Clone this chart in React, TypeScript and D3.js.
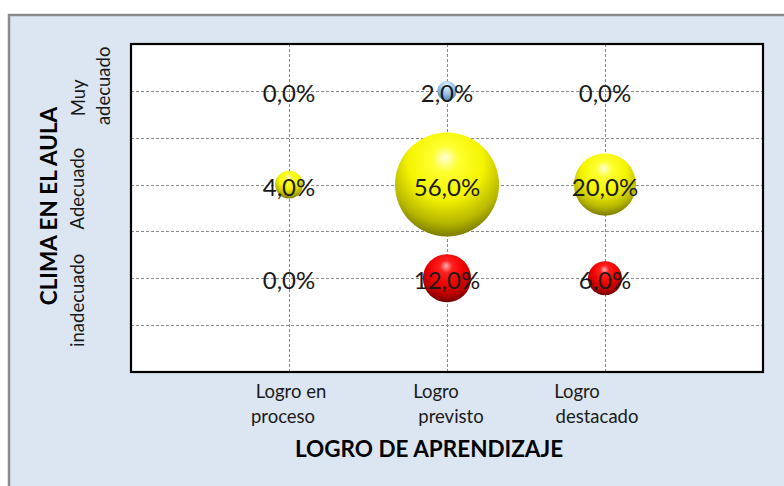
import React, { useEffect, useRef } from 'react';
import * as d3 from 'd3';

// categories
const logros = [['Logro en', 'proceso'], ['Logro', 'previsto'], ['Logro', 'destacado']];
const climaLevels = ['inadecuado', 'Adecuado', 'Muy adecuado'];

// percentages per row of clima (x order = logros)
const inadecuado = [0, 12, 6];
const adecuado = [4, 56, 20];
const muyAdecuado = [0, 2, 0];

const series = [
  { name: 'inadecuado', level: 1, values: inadecuado, grad: 'sphRed' },
  { name: 'Adecuado', level: 2, values: adecuado, grad: 'sphYellow' },
  { name: 'Muy adecuado', level: 3, values: muyAdecuado, grad: 'sphBlue' },
];

const W = 784;
const H = 486;
const FONT = 'Lato, "Open Sans", sans-serif';

const fmt = (v: number) => v.toFixed(1).replace('.', ',') + '%';

export default function App() {
  const ref = useRef<SVGSVGElement>(null);

  useEffect(() => {
    const svg = d3.select(ref.current);
    svg.selectAll('*').remove();

    const x = d3.scaleLinear().domain([0, 4]).range([131, 763]);
    const y = d3.scaleLinear().domain([0, 3.5]).range([372, 44]);
    const r = d3.scaleSqrt().domain([0, 56]).range([0, 52]);

    const defs = svg.append('defs');
    const sphere = (id: string, stops: [number, string][]) => {
      const g = defs.append('radialGradient')
        .attr('id', id)
        .attr('cx', '50%').attr('cy', '32%').attr('r', '72%')
        .attr('fx', '48%').attr('fy', '24%');
      stops.forEach(([o, c]) => g.append('stop').attr('offset', o).attr('stop-color', c));
    };
    sphere('sphYellow', [[0, '#ffffd8'], [0.18, '#ffff30'], [0.5, '#f4f400'], [0.78, '#b8b800'], [1, '#6a6a00']]);
    sphere('sphRed', [[0, '#ffb0b0'], [0.18, '#ff2020'], [0.5, '#f00000'], [0.78, '#b00000'], [1, '#600000']]);
    sphere('sphBlue', [[0, '#f4faff'], [0.25, '#c0dcf4'], [0.6, '#8fb8e2'], [1, '#4a78ad']]);

    // chart area
    svg.append('rect')
      .attr('x', 9).attr('y', 15)
      .attr('width', 820).attr('height', 520)
      .attr('fill', '#dce6f2')
      .attr('stroke', '#8c8c8c')
      .attr('stroke-width', 2.5);

    // plot area
    svg.append('rect')
      .attr('x', x(0)).attr('y', y(3.5))
      .attr('width', x(4) - x(0)).attr('height', y(0) - y(3.5))
      .attr('fill', '#ffffff');

    const grid = svg.append('g')
      .attr('stroke', '#8a8a8a')
      .attr('stroke-width', 1)
      .attr('stroke-dasharray', '3,2');

    grid.selectAll('line.h')
      .data(d3.range(0.5, 3.5, 0.5))
      .enter().append('line')
      .attr('x1', x(0)).attr('x2', x(4))
      .attr('y1', d => Math.round(y(d)) + 0.5)
      .attr('y2', d => Math.round(y(d)) + 0.5);

    grid.selectAll('line.v')
      .data([1, 2, 3])
      .enter().append('line')
      .attr('y1', y(0)).attr('y2', y(3.5))
      .attr('x1', d => Math.round(x(d)) + 0.5)
      .attr('x2', d => Math.round(x(d)) + 0.5);

    svg.append('rect')
      .attr('x', x(0)).attr('y', y(3.5))
      .attr('width', x(4) - x(0)).attr('height', y(0) - y(3.5))
      .attr('fill', 'none')
      .attr('stroke', '#000')
      .attr('stroke-width', 2.2);

    // bubbles
    const points = series.flatMap(s => s.values.map((v, i) => ({ v, i: i + 1, level: s.level, grad: s.grad })));

    svg.append('g').selectAll('circle')
      .data(points.filter(p => p.v > 0).sort((a, b) => b.v - a.v))
      .enter().append('circle')
      .attr('cx', d => x(d.i))
      .attr('cy', d => y(d.level))
      .attr('r', d => r(d.v))
      .attr('fill', d => `url(#${d.grad})`);

    svg.append('g').selectAll('text')
      .data(points)
      .enter().append('text')
      .attr('x', d => x(d.i))
      .attr('y', d => y(d.level) + 11)
      .attr('text-anchor', 'middle')
      .style('font-family', FONT)
      .style('font-size', '24px')
      .style('fill', '#1a1a1a')
      .text(d => fmt(d.v));

    // x tick labels
    const xOffsets = [[2, -6], [-11, 4], [-28, -8]];
    logros.forEach((lines, i) => {
      lines.forEach((line, j) => {
        svg.append('text')
          .attr('x', x(i + 1) + xOffsets[i][j])
          .attr('y', 398 + j * 25)
          .attr('text-anchor', 'middle')
          .style('font-family', FONT)
          .style('font-size', '18.5px')
          .style('fill', '#1a1a1a')
          .text(line);
      });
    });

    // y tick labels (rotated)
    const yLabel = (txt: string, cy: number, bx: number) => {
      svg.append('text')
        .attr('transform', `translate(${bx},${cy}) rotate(-90)`)
        .attr('text-anchor', 'middle')
        .style('font-family', FONT)
        .style('font-size', '18.5px')
        .style('fill', '#1a1a1a')
        .text(txt);
    };
    yLabel(climaLevels[0], y(1) + 22, 84);
    yLabel(climaLevels[1], y(2) + 4, 84);
    const [muy, ade] = climaLevels[2].split(' ');
    yLabel(muy, y(3) + 7, 85);
    yLabel(ade, y(3) - 5, 110);

    // axis titles
    svg.append('text')
      .attr('transform', `translate(57,${206}) rotate(-90)`)
      .attr('text-anchor', 'middle')
      .style('font-family', FONT)
      .style('font-weight', 'bold')
      .style('font-size', '22.5px')
      .style('fill', '#000')
      .text('CLIMA EN EL AULA');

    svg.append('text')
      .attr('x', 429)
      .attr('y', 457)
      .attr('text-anchor', 'middle')
      .style('font-family', FONT)
      .style('font-weight', 'bold')
      .style('font-size', '22.5px')
      .style('fill', '#000')
      .text('LOGRO DE APRENDIZAJE');
  }, []);

  return (
    <svg
      ref={ref}
      width={W}
      height={H}
      style={{ position: 'absolute', left: 0, top: 0, display: 'block' }}
    />
  );
}
